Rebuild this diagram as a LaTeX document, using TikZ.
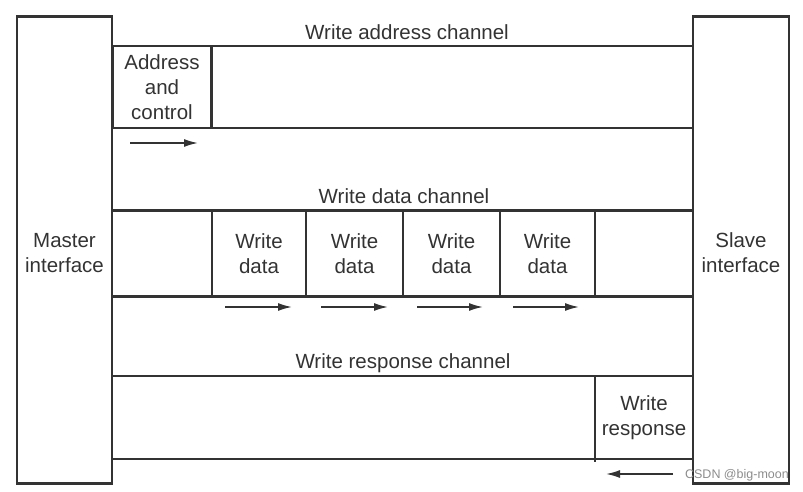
\documentclass[tikz,border=0pt]{standalone}
\usepackage{fontspec}
\setmainfont{Liberation Sans}
\usetikzlibrary{arrows.meta}
\definecolor{ink}{HTML}{333333}
\begin{document}
\begin{tikzpicture}[x=1pt,y=-1pt,
  box/.style={draw=ink,line width=2.3pt,rectangle,inner sep=0pt,outer sep=0pt,align=center,
    font=\fontsize{20.5}{25}\selectfont,text=ink},
  lbl/.style={inner sep=0pt,font=\fontsize{20.5}{25}\selectfont,text=ink,align=center},
  flow/.style={draw=ink,line width=1.6pt,-{Latex[length=14pt,width=8pt]}}]
\useasboundingbox (0,0) rectangle (803,492);
% side interfaces
\node[box,minimum width=95pt,minimum height=467pt] (master) at (64.5,250) {};
\node[lbl] (mtext) at (64.5,253) {Master\\interface};
\node[box,minimum width=96pt,minimum height=467pt] (slave) at (741,250) {};
\node[lbl] (stext) at (741,253) {Slave\\interface};
% write address channel
\node[lbl,anchor=base] (wac) at (407,40) {Write address channel};
\node[box,minimum width=581pt,minimum height=82pt] (ach) at (402.5,87) {};
\node[box,minimum width=99pt,minimum height=82pt] (addr) at (162,87) {Address\\and\\control};
\coordinate (a1) at (130,143);
\coordinate (a2) at (198,143);
\draw[flow] (a1) -- (a2);
% write data channel
\node[lbl,anchor=base] (wdc) at (404,203) {Write data channel};
\node[box,minimum width=581pt,minimum height=86pt] (dch) at (402.5,253.5) {};
\node[box,minimum width=94pt,minimum height=86pt] (d1) at (259,253.5) {Write\\data};
\node[box,minimum width=97pt,minimum height=86pt] (d2) at (354.5,253.5) {Write\\data};
\node[box,minimum width=97pt,minimum height=86pt] (d3) at (451.5,253.5) {Write\\data};
\node[box,minimum width=95pt,minimum height=86pt] (d4) at (547.5,253.5) {Write\\data};
\coordinate (b1s) at (225,307); \coordinate (b1e) at (292,307);
\coordinate (b2s) at (321,307); \coordinate (b2e) at (388,307);
\coordinate (b3s) at (417,307); \coordinate (b3e) at (483,307);
\coordinate (b4s) at (513,307); \coordinate (b4e) at (579,307);
\draw[flow] (b1s) -- (b1e);
\draw[flow] (b2s) -- (b2e);
\draw[flow] (b3s) -- (b3e);
\draw[flow] (b4s) -- (b4e);
% write response channel
\node[lbl,anchor=base] (wrc) at (403,368) {Write response channel};
\node[box,minimum width=581pt,minimum height=83pt] (rch) at (402.5,417.5) {};
\node[box,minimum width=98pt,minimum height=83pt] (resp) at (644,417.5) {Write\\response};
\draw[draw=ink,line width=2.3pt] (resp.south west) -- ++(0,3);
\coordinate (c1) at (673,474);
\coordinate (c2) at (606,474);
\draw[flow] (c1) -- (c2);
% watermark
\node[inner sep=0pt,anchor=east,text=black!45,font=\fontsize{12.5}{14}\selectfont] (wm) at (789,475) {CSDN @big-moon};
\end{tikzpicture}
\end{document}
